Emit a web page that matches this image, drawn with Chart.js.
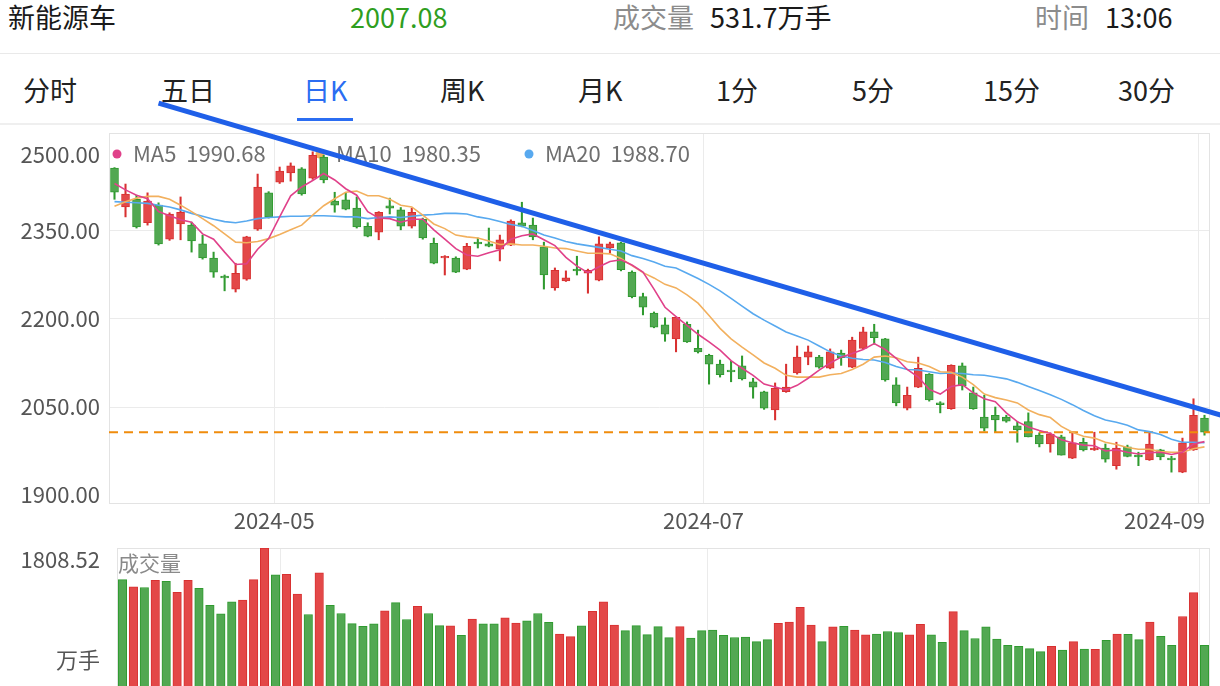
<!DOCTYPE html>
<html lang="zh-CN">
<head>
<meta charset="utf-8">
<title>新能源车 日K</title>
<script src="https://cdn.jsdelivr.net/npm/chart.js@4.4.1/dist/chart.umd.min.js"></script>
<style>
    html, body { margin: 0; padding: 0; background: #fff; }
    body {
        width: 1220px; height: 686px; position: relative; overflow: hidden;
        font-family: "Noto Sans CJK SC", "Noto Sans", sans-serif;
    }
    .quote span { position: absolute; top: 0; line-height: 33px; font-size: 27px; color: #1a1a1a; white-space: nowrap; }
    .quote .muted { color: #8c8c8c; }
    .quote .down { color: #2f9e1f; }
    .rule { position: absolute; left: 0; width: 1220px; background: #e9e9e9; }
    .tabs span { position: absolute; top: 73px; line-height: 34px; font-size: 27px; color: #222; white-space: nowrap; }
    .tabs .active { color: #2b6df2; }
    .underline { position: absolute; left: 297px; top: 118px; width: 56px; height: 3px; background: #2b6df2; }
    canvas { position: absolute; left: 0; pointer-events: none; }
    #main { top: 0; z-index: 2; }
    #vol { top: 535px; z-index: 2; }
</style>
</head>
<body>
<div class="quote">
    <span style="left:8px" id="q-name">新能源车</span>
    <span class="down" style="left:350px" id="q-price"></span>
    <span class="muted" style="left:613px">成交量</span>
    <span style="left:710px" id="q-vol"></span>
    <span class="muted" style="left:1035px">时间</span>
    <span style="left:1105px">13:06</span>
</div>
<div class="rule" style="top:53px;height:1px"></div>
<div class="tabs">
    <span style="left:23px">分时</span>
    <span style="left:161px">五日</span>
    <span class="active" style="left:303px">日K</span>
    <span style="left:440px">周K</span>
    <span style="left:578px">月K</span>
    <span style="left:716px">1分</span>
    <span style="left:852px">5分</span>
    <span style="left:983px">15分</span>
    <span style="left:1118px">30分</span>
</div>
<div class="underline"></div>
<div class="rule" style="top:123px;height:2px;background:#efefef"></div>

<canvas id="main" width="1220" height="535"></canvas>
<canvas id="vol" width="1220" height="151"></canvas>

<script>
/* Daily K-line of the new-energy-vehicle index, Apr 10 - Sep 2 2024.
   Values. */
(function () {
    "use strict";

    var opens = [2457, 2391, 2404, 2364, 2394, 2336, 2362, 2360, 2328, 2304,
        2273, 2251, 2268, 2353, 2415, 2433, 2449, 2456, 2440, 2476,
        2401, 2403, 2389, 2358, 2348, 2393, 2386, 2358, 2370, 2329,
        2304, 2304, 2285, 2331, 2328, 2319, 2326, 2364, 2360, 2323,
        2253, 2265, 2285, 2278, 2266, 2321, 2330, 2280, 2238, 2210,
        2190, 2166, 2191, 2150, 2138, 2123, 2113, 2120, 2093, 2076,
        2045, 2076, 2108, 2135, 2135, 2116, 2142, 2118, 2150, 2178,
        2166, 2088, 2048, 2084, 2106, 2057, 2047, 2120, 2074, 2033,
        2036, 2033, 2018, 2025, 2002, 1987, 1999, 1963, 1990, 1977,
        1980, 1950, 1982, 1968, 1960, 1977, 1963, 1939, 1977, 2031];
    var highs = [2458, 2430, 2411, 2415, 2398, 2381, 2408, 2365, 2343, 2314,
        2275, 2295, 2341, 2447, 2417, 2459, 2466, 2458, 2485, 2479,
        2416, 2415, 2408, 2364, 2383, 2406, 2390, 2389, 2372, 2338,
        2308, 2306, 2329, 2338, 2355, 2343, 2369, 2399, 2372, 2331,
        2287, 2282, 2307, 2285, 2340, 2331, 2331, 2282, 2244, 2212,
        2202, 2204, 2195, 2181, 2140, 2130, 2128, 2137, 2099, 2077,
        2091, 2123, 2154, 2154, 2138, 2149, 2147, 2169, 2186, 2191,
        2167, 2100, 2084, 2135, 2107, 2059, 2122, 2125, 2084, 2070,
        2050, 2036, 2025, 2040, 2006, 2006, 2002, 2007, 1997, 2007,
        1987, 1990, 1985, 1973, 2006, 1978, 1966, 1997, 2064, 2036];
    var lows = [2404, 2374, 2355, 2360, 2326, 2334, 2335, 2314, 2302, 2271,
        2248, 2246, 2266, 2351, 2372, 2431, 2435, 2411, 2438, 2432,
        2382, 2386, 2355, 2340, 2335, 2379, 2352, 2355, 2336, 2294,
        2275, 2279, 2284, 2321, 2323, 2299, 2325, 2357, 2335, 2251,
        2249, 2264, 2275, 2244, 2265, 2312, 2282, 2236, 2207, 2185,
        2162, 2144, 2160, 2142, 2089, 2101, 2093, 2096, 2065, 2046,
        2028, 2075, 2106, 2122, 2116, 2115, 2121, 2117, 2149, 2157,
        2094, 2052, 2045, 2083, 2060, 2040, 2046, 2079, 2046, 2009,
        2007, 2024, 1990, 1999, 1982, 1973, 1968, 1962, 1975, 1976,
        1956, 1944, 1965, 1950, 1959, 1960, 1939, 1938, 1976, 2002];
    var closes = [2416, 2413, 2357, 2401, 2328, 2379, 2382, 2333, 2304, 2280,
        2270, 2278, 2340, 2425, 2374, 2452, 2461, 2413, 2479, 2437,
        2394, 2387, 2357, 2341, 2382, 2389, 2358, 2382, 2338, 2295,
        2307, 2280, 2324, 2328, 2324, 2335, 2367, 2358, 2340, 2275,
        2283, 2270, 2282, 2283, 2328, 2328, 2284, 2238, 2220, 2186,
        2174, 2203, 2161, 2144, 2123, 2105, 2110, 2098, 2084, 2048,
        2082, 2084, 2135, 2144, 2118, 2144, 2134, 2164, 2178, 2168,
        2096, 2057, 2070, 2116, 2062, 2054, 2121, 2086, 2047, 2014,
        2028, 2026, 2011, 1999, 1987, 2004, 1968, 1989, 1977, 1980,
        1961, 1980, 1966, 1965, 1987, 1965, 1960, 1989, 2036, 2007.08];

    // 成交量, 万手
    var volumes = [1394, 1300, 1291, 1386, 1373, 1229, 1386, 1280, 1056, 946,
        1102, 1126, 1394, 1808.52, 1456, 1465, 1206, 937, 1484, 1056,
        950, 818, 781, 814, 985, 1093, 871, 1045, 950, 792,
        787, 664, 876, 814, 814, 895, 824, 853, 950, 833,
        682, 647, 787, 977, 1102, 800, 726, 792, 673, 779,
        634, 779, 627, 726, 734, 665, 636, 642, 582, 607,
        822, 837, 1032, 797, 582, 774, 783, 734, 671, 681,
        714, 700, 671, 808, 671, 573, 974, 726, 622, 774,
        616, 533, 519, 490, 450, 519, 470, 582, 484, 480,
        598, 681, 676, 607, 837, 651, 533, 911, 1224, 531.7];

    var ma5 = [2431, 2420, 2411, 2405, 2383, 2376, 2369, 2365, 2345, 2336,
        2314, 2293, 2294, 2319, 2337, 2374, 2410, 2425, 2436, 2448,
        2437, 2422, 2411, 2383, 2372, 2371, 2365, 2370, 2370, 2352,
        2336, 2320, 2309, 2307, 2313, 2318, 2336, 2342, 2345, 2335,
        2325, 2305, 2290, 2279, 2289, 2298, 2301, 2292, 2280, 2251,
        2220, 2204, 2189, 2174, 2161, 2147, 2129, 2116, 2104, 2089,
        2084, 2079, 2087, 2099, 2113, 2125, 2135, 2141, 2148, 2158,
        2148, 2133, 2114, 2101, 2080, 2072, 2085, 2088, 2074, 2064,
        2059, 2040, 2025, 2016, 2010, 2005, 1994, 1989, 1985, 1984,
        1975, 1977, 1973, 1970, 1972, 1973, 1969, 1973, 1987, 1991];
    var ma10 = [2392, 2400, 2406, 2409, 2409, 2404, 2394, 2383, 2371, 2359,
        2345, 2331, 2330, 2332, 2337, 2344, 2352, 2360, 2377, 2393,
        2405, 2416, 2418, 2410, 2410, 2404, 2394, 2391, 2377, 2362,
        2354, 2343, 2340, 2338, 2333, 2327, 2328, 2326, 2326, 2324,
        2321, 2320, 2316, 2312, 2312, 2311, 2303, 2291, 2279, 2270,
        2259, 2253, 2241, 2227, 2206, 2184, 2166, 2152, 2139, 2125,
        2116, 2104, 2101, 2101, 2101, 2105, 2107, 2114, 2123, 2135,
        2137, 2134, 2127, 2125, 2119, 2110, 2109, 2101, 2088, 2072,
        2066, 2062, 2057, 2045, 2037, 2032, 2017, 2007, 2000, 1997,
        1990, 1986, 1981, 1978, 1978, 1974, 1973, 1973, 1979, 1982];
    var ma20 = [2400, 2399, 2398, 2397, 2394, 2391, 2386, 2380, 2375, 2370,
        2366, 2364, 2367, 2371, 2373, 2374, 2375, 2375, 2376, 2376,
        2375, 2374, 2374, 2371, 2373, 2374, 2373, 2375, 2377, 2378,
        2380, 2380, 2379, 2374, 2371, 2366, 2361, 2358, 2351, 2343,
        2338, 2332, 2328, 2325, 2322, 2319, 2316, 2308, 2303, 2297,
        2290, 2287, 2278, 2269, 2259, 2248, 2235, 2222, 2209, 2198,
        2188, 2178, 2171, 2164, 2154, 2144, 2137, 2133, 2131, 2130,
        2126, 2119, 2114, 2113, 2110, 2107, 2108, 2107, 2105, 2104,
        2101, 2098, 2092, 2085, 2078, 2071, 2063, 2054, 2044, 2035,
        2028, 2024, 2019, 2011, 2008, 2003, 1995, 1990, 1990, 1989];

    var maNames = ["MA5", "MA10", "MA20"];
    var maLast = ["1990.68", "1980.35", "1988.70"];

    var priceTicks = [2500, 2350, 2200, 2050, 1900];
    var priceGrid = [2350, 2200, 2050];
    var monthLabels = ["2024-05", "2024-07", "2024-09"];
    var monthFirstDay = [15, 54, 99];   // index of the first candle of each month
    var volMax = 1808.52;

    // hand-drawn resistance line (candle index, price)
    var trendIdx = [4, 100.5];
    var trendVal = [2568, 2036];

    var UP = "#e34848", UP_EDGE = "#d83030";
    var DOWN = "#52a852", DOWN_EDGE = "#2f9a2f";
    var MA_COLORS = ["#e0418a", "#f2b05e", "#58a9ef"];

    var n = closes.length;
    var xMin = -0.5, xMax = n - 0.5;
    var lastPrice = closes[n - 1];

    document.getElementById("q-price").textContent = lastPrice.toFixed(2);
    document.getElementById("q-vol").textContent = volumes[n - 1] + "万手";

    function isUp(i) {
        return closes[i] >= opens[i];
    }
    var fill = closes.map(function (c, i) { return isUp(i) ? UP : DOWN; });
    var edge = closes.map(function (c, i) { return isUp(i) ? UP_EDGE : DOWN_EDGE; });

    function series(arr) {
        return arr.map(function (v, i) { return { x: i, y: v }; });
    }

    Chart.defaults.font.family = '"Noto Sans CJK SC", "Noto Sans", sans-serif';
    Chart.defaults.animation = false;

    var GRID = "#ebebeb";
    var LABEL_FONT = "22px " + Chart.defaults.font.family;

    function monthAxis() {
        return {
            type: "linear",
            min: xMin,
            max: xMax,
            offset: false,
            grid: { offset: false, color: GRID, drawTicks: false },
            border: { display: false },
            ticks: { display: false },
            afterBuildTicks: function (scale) {
                scale.ticks = monthFirstDay.map(function (d) { return { value: d - 0.5 }; });
            }
        };
    }

    var frame = {
        id: "frame",
        beforeDatasetsDraw: function (chart) {
            var a = chart.chartArea, ctx = chart.ctx;
            ctx.save();
            ctx.strokeStyle = "#e3e3e3";
            ctx.lineWidth = 1;
            ctx.strokeRect(a.left + 0.5, a.top + 0.5, a.right - a.left - 1, a.bottom - a.top);
            ctx.restore();
        }
    };

    var priceText = {
        id: "priceText",
        beforeDatasetsDraw: function (chart) {
            // MA legend, under the trend line
            var ctx = chart.ctx, a = chart.chartArea;
            var lx = [117, 320, 529];
            ctx.save();
            ctx.font = LABEL_FONT;
            ctx.textBaseline = "middle";
            for (var k = 0; k < 3; k++) {
                ctx.fillStyle = MA_COLORS[k];
                ctx.beginPath();
                ctx.arc(lx[k], a.top + 21, 4.5, 0, Math.PI * 2);
                ctx.fill();
                ctx.fillStyle = "#6f6f6f";
                ctx.fillText(maNames[k] + "  " + maLast[k], lx[k] + 16, a.top + 21);
            }
            ctx.restore();
        },
        afterDraw: function (chart) {
            var ctx = chart.ctx, a = chart.chartArea;
            var ys = chart.scales.y, xs = chart.scales.x;
            ctx.save();
            ctx.font = LABEL_FONT;
            ctx.fillStyle = "#555";
            ctx.textAlign = "right";
            ctx.textBaseline = "middle";
            priceTicks.forEach(function (v) {
                var py = Math.min(Math.max(ys.getPixelForValue(v), a.top + 22), a.bottom - 8);
                ctx.fillText(v.toFixed(2), 100, py);
            });
            ctx.textAlign = "center";
            monthLabels.forEach(function (t, k) {
                var px = xs.getPixelForValue(monthFirstDay[k] - 0.5);
                var w = ctx.measureText(t).width;
                px = Math.min(px, chart.width - 15 - w / 2);
                ctx.fillText(t, px, a.bottom + 18);
            });
            ctx.restore();
        }
    };

    new Chart(document.getElementById("main"), {
        type: "bar",
        data: {
            datasets: [
                {
                    type: "line",
                    data: trendIdx.map(function (x, k) { return { x: x, y: trendVal[k] }; }),
                    borderColor: "#1f5fe8",
                    borderWidth: 5,
                    pointRadius: 0,
                    clip: false,
                    order: 0
                },
                {
                    type: "line", data: series(ma5), borderColor: MA_COLORS[0],
                    borderWidth: 1.6, pointRadius: 0, order: 1
                },
                {
                    type: "line", data: series(ma10), borderColor: MA_COLORS[1],
                    borderWidth: 1.6, pointRadius: 0, order: 1
                },
                {
                    type: "line", data: series(ma20), borderColor: MA_COLORS[2],
                    borderWidth: 1.6, pointRadius: 0, order: 1
                },
                {
                    type: "line",
                    data: [{ x: xMin, y: lastPrice }, { x: xMax, y: lastPrice }],
                    borderColor: "#f08c0c",
                    borderWidth: 2,
                    borderDash: [9, 6],
                    pointRadius: 0,
                    order: 2
                },
                {
                    data: closes.map(function (c, i) { return { x: i, y: [opens[i], c] }; }),
                    backgroundColor: fill,
                    borderColor: edge,
                    borderWidth: 1,
                    borderSkipped: false,
                    barThickness: 8,
                    grouped: false,
                    order: 3
                },
                {
                    data: closes.map(function (c, i) { return { x: i, y: [lows[i], highs[i]] }; }),
                    backgroundColor: edge,
                    barThickness: 1.4,
                    grouped: false,
                    order: 4
                }
            ]
        },
        options: {
            responsive: false,
            layout: { padding: { left: 109, right: 10, top: 133, bottom: 32 } },
            plugins: { legend: { display: false }, tooltip: { enabled: false } },
            scales: {
                x: monthAxis(),
                y: {
                    min: 1886.4,
                    max: 2517,
                    grid: { color: GRID, drawTicks: false },
                    border: { display: false },
                    ticks: { display: false },
                    afterBuildTicks: function (scale) {
                        scale.ticks = priceGrid.map(function (v) { return { value: v }; });
                    }
                }
            }
        },
        plugins: [frame, priceText]
    });

    var volText = {
        id: "volText",
        afterDraw: function (chart) {
            var ctx = chart.ctx, a = chart.chartArea;
            ctx.save();
            ctx.font = LABEL_FONT;
            ctx.fillStyle = "#555";
            ctx.textAlign = "right";
            ctx.textBaseline = "middle";
            ctx.fillText(volMax.toFixed(2), 100, a.top + 12);
            ctx.fillText("万手", 100, a.bottom - 26);
            ctx.textAlign = "left";
            ctx.fillStyle = "#8a8a8a";
            ctx.font = "21px " + Chart.defaults.font.family;
            ctx.fillText("成交量", 118, a.top + 15);
            ctx.restore();
        }
    };

    new Chart(document.getElementById("vol"), {
        type: "bar",
        data: {
            datasets: [{
                data: series(volumes),
                backgroundColor: fill,
                borderColor: edge,
                borderWidth: 1,
                borderSkipped: "bottom",
                barThickness: 8.5
            }]
        },
        options: {
            responsive: false,
            layout: { padding: { left: 109, right: 10, top: 13, bottom: 0 } },
            plugins: { legend: { display: false }, tooltip: { enabled: false } },
            scales: {
                x: monthAxis(),
                y: {
                    min: 0,
                    max: volMax,
                    grid: { display: false },
                    border: { display: false },
                    ticks: { display: false }
                }
            }
        },
        plugins: [frame, volText]
    });
})();
</script>
</body>
</html>
